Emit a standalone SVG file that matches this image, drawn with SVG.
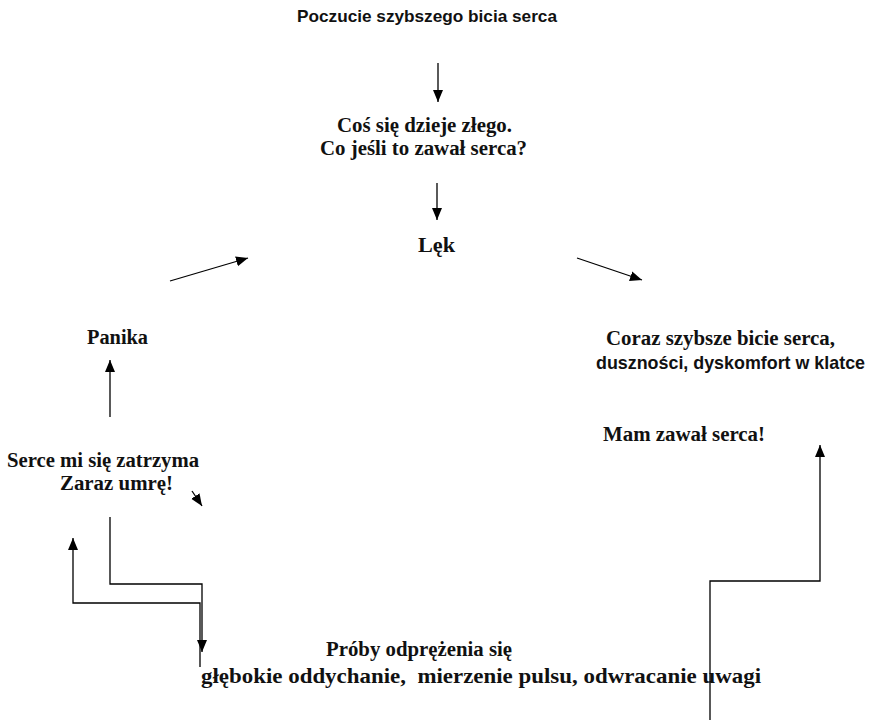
<svg xmlns="http://www.w3.org/2000/svg" width="875" height="724" viewBox="0 0 875 724">
<style>
.s{font-family:"Liberation Serif","Times New Roman",serif;font-weight:bold;font-size:20px;fill:#111;}
.ss{font-family:"Liberation Sans",Arial,sans-serif;font-weight:bold;font-size:17px;fill:#111;}
.c{fill:none;stroke:#000;stroke-width:1.3;}
</style>
<defs>
<marker id="ah" markerUnits="userSpaceOnUse" markerWidth="14" markerHeight="12" refX="12" refY="5" orient="auto">
<path d="M0,0 L12,5 L0,10 Z" fill="#000"/>
</marker>
</defs>
<rect width="875" height="724" fill="#fff"/>
<g id="n1"><text class="ss" x="297" y="22" textLength="260" lengthAdjust="spacingAndGlyphs">Poczucie szybszego bicia serca</text></g>
<g id="n2"><text class="s" x="337" y="132" textLength="175" lengthAdjust="spacingAndGlyphs">Coś się dzieje złego.</text><text class="s" x="320" y="155" textLength="207" lengthAdjust="spacingAndGlyphs">Co jeśli to zawał serca?</text></g>
<g id="n3"><text class="s" x="418" y="252" textLength="37" lengthAdjust="spacingAndGlyphs">Lęk</text></g>
<g id="n4"><text class="s" x="87" y="344" textLength="61" lengthAdjust="spacingAndGlyphs">Panika</text></g>
<g id="n5"><text class="s" x="7" y="467" textLength="192" lengthAdjust="spacingAndGlyphs">Serce mi się zatrzyma</text><text class="s" x="60" y="490" textLength="113" lengthAdjust="spacingAndGlyphs">Zaraz umrę!</text></g>
<g id="n6"><text class="s" x="606" y="345" textLength="229" lengthAdjust="spacingAndGlyphs">Coraz szybsze bicie serca,</text><text class="ss" x="596" y="369" textLength="269" lengthAdjust="spacingAndGlyphs" style="font-size:18.5px">duszności, dyskomfort w klatce</text></g>
<g id="n7"><text class="s" x="603" y="441" textLength="162" lengthAdjust="spacingAndGlyphs">Mam zawał serca!</text></g>
<g id="n8"><text class="s" x="326" y="656" textLength="186" lengthAdjust="spacingAndGlyphs">Próby odprężenia się</text><text class="s" x="201" y="683" style="font-size:22px" textLength="560" lengthAdjust="spacingAndGlyphs" xml:space="preserve">głębokie oddychanie,  mierzenie pulsu, odwracanie uwagi</text></g>
<g id="connectors">
<line class="c" x1="438" y1="63" x2="438" y2="102" marker-end="url(#ah)"/>
<line class="c" x1="437" y1="183" x2="437" y2="220" marker-end="url(#ah)"/>
<line class="c" x1="170" y1="281" x2="248" y2="258" marker-end="url(#ah)"/>
<line class="c" x1="577" y1="258" x2="642" y2="280" marker-end="url(#ah)"/>
<line class="c" x1="110" y1="417" x2="110" y2="360" marker-end="url(#ah)"/>
<line class="c" x1="192" y1="491" x2="202" y2="506" marker-end="url(#ah)"/>
<polyline class="c" points="110,517 110,584 202,584 202,652" marker-end="url(#ah)"/>
<polyline class="c" points="200,667 200,603 73,603 73,538" marker-end="url(#ah)"/>
<polyline class="c" points="710,720 710,581 820,581 820,445" marker-end="url(#ah)"/>
</g>
</svg>
